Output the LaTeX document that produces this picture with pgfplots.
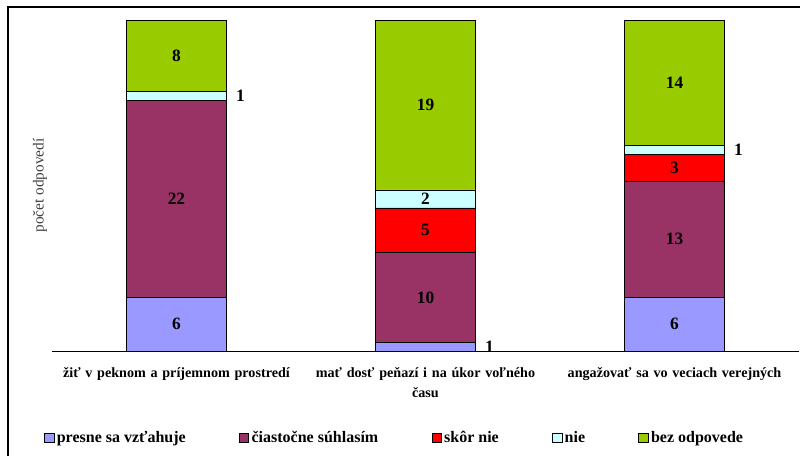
\documentclass[border=0pt]{standalone}
\usepackage{fontspec}
\setmainfont{Liberation Serif}
\usepackage{pgfplots}
\pgfplotsset{compat=1.18}

\definecolor{presne}{HTML}{9999FF}
\definecolor{ciast}{HTML}{993366}
\definecolor{skor}{HTML}{FF0000}
\definecolor{nie}{HTML}{CCFFFF}
\definecolor{bez}{HTML}{99CC00}

\begin{document}
\begin{tikzpicture}
% page of 800 x 455 px, 1 px = 0.75 pt
\clip (0pt,0pt) rectangle (600pt,341.25pt);
\draw[line width=1.3pt] (6pt,-20pt) rectangle (620pt,336pt);
\begin{axis}[
    at={(39pt,78pt)}, anchor=south west,
    scale only axis,
    width=560.25pt, height=248.25pt,
    ybar stacked,
    bar width=75pt,
    xmin=-0.5, xmax=2.5,
    ymin=0, ymax=37,
    axis x line*=bottom,
    axis y line*=left,
    y axis line style={draw=none},
    ytick=\empty,
    xtick={0,1,2},
    major x tick style={draw=none},
    extra x ticks={-0.5,0.5,1.5,2.5},
    extra x tick labels={},
    extra x tick style={tick align=outside, major tick length=4pt, tick style={black, line width=0.6pt}},
    xticklabels={%
        žiť v peknom a príjemnom prostredí,
        {mať dosť peňazí i na úkor voľného\\času},
        angažovať sa vo veciach verejných},
    xticklabel style={text width=192pt, align=center, font=\fontsize{10.6}{15}\selectfont\bfseries, yshift=-9pt},
    ylabel={počet odpovedí},
    ylabel style={at={(axis description cs:-0.016,0.5)}, anchor=center, font=\fontsize{11.5}{13}\selectfont, text=black!75},
    x axis line style={line width=0.6pt},
    every axis plot/.append style={draw=black, line width=0.5pt},
    visualization depends on=rawy \as \rawy,
    % small values (1) are labelled beside the bar, zeros not at all
    nodes near coords={\ifdim\rawy pt=0pt\else\ifdim\rawy pt=1pt\hspace*{96pt}\fi
        \pgfmathprintnumber[assume math mode=true]{\rawy}\fi},
    nodes near coords style={font=\fontsize{13}{15}\selectfont\bfseries, anchor=center},
    legend columns=5,
    legend style={at={(axis description cs:-0.016,-0.263)}, anchor=west, draw=none,
        font=\fontsize{12}{14}\selectfont\bfseries,
        /tikz/every even column/.append style={column sep=38pt}},
    legend image code/.code={\draw[#1, draw=black, line width=0.4pt] (1.5pt,-3.5pt) rectangle (8.5pt,3.5pt);},
]
\addplot[fill=presne] coordinates {(0,6) (1,1) (2,6)};
\addlegendentry{presne sa vzťahuje}
\addplot[fill=ciast] coordinates {(0,22) (1,10) (2,13)};
\addlegendentry{čiastočne súhlasím}
\addplot[fill=skor] coordinates {(0,0) (1,5) (2,3)};
\addlegendentry{skôr nie}
\addplot[fill=nie] coordinates {(0,1) (1,2) (2,1)};
\addlegendentry{nie}
\addplot[fill=bez] coordinates {(0,8) (1,19) (2,14)};
\addlegendentry{bez odpovede}
\end{axis}
\end{tikzpicture}
\end{document}
